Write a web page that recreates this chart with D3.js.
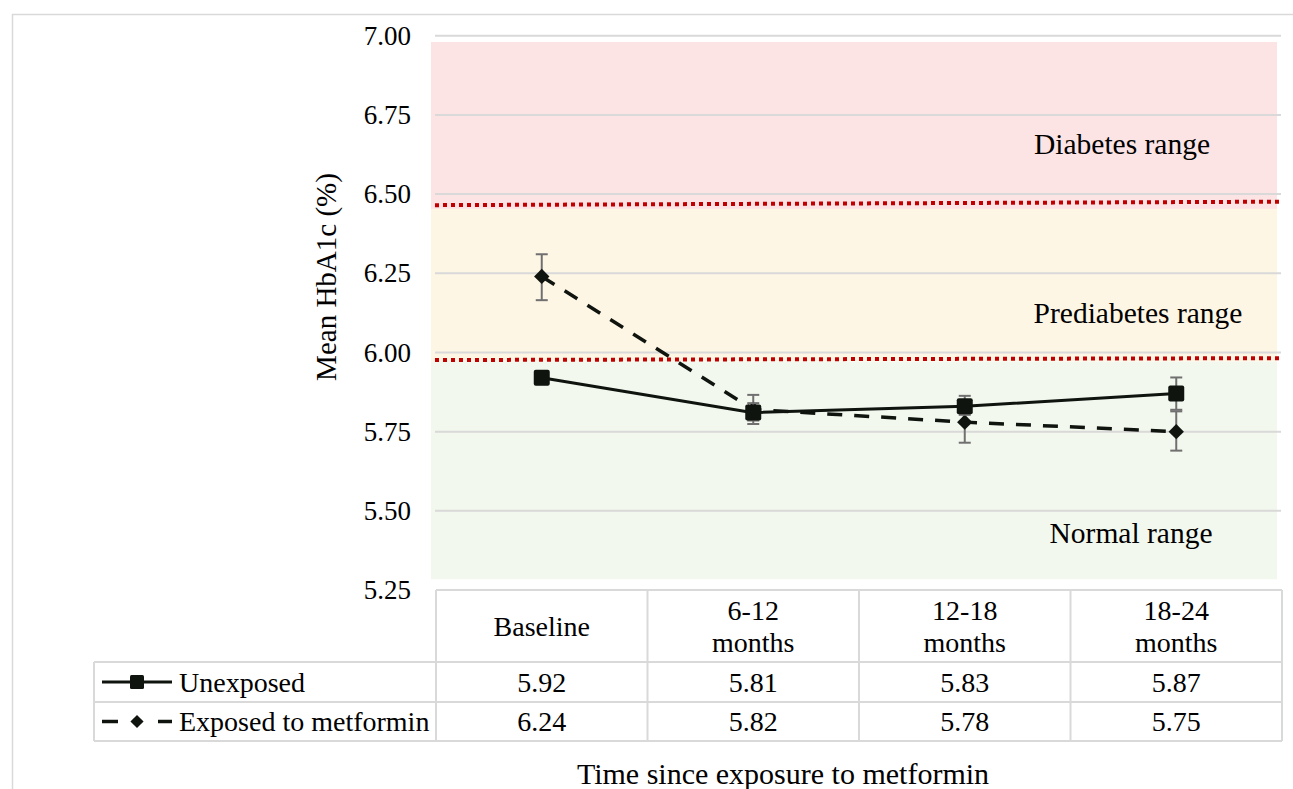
<!DOCTYPE html>
<html>
<head>
<meta charset="utf-8">
<script src="https://cdn.jsdelivr.net/npm/d3@7/dist/d3.min.js"></script>
<style>
  html, body { margin: 0; padding: 0; background: #fff; }
  svg { display: block; font-family: "Liberation Serif", "Times New Roman", serif; }
</style>
</head>
<body>
<svg id="chart" width="1293" height="789"></svg>
<script>
// Time points and their two-line header labels
const categories = ["Baseline", "6-12 months", "12-18 months", "18-24 months"];
const categoryLines = [["Baseline"], ["6-12", "months"], ["12-18", "months"], ["18-24", "months"]];

// Mean HbA1c (%) per group
const unexposed = [5.92, 5.81, 5.83, 5.87];
const exposed = [6.24, 5.82, 5.78, 5.75];

// Error bar limits
const unexposedLow = [5.90, 5.785, 5.803, 5.819];
const unexposedHigh = [5.94, 5.840, 5.863, 5.921];
const exposedLow = [6.165, 5.774, 5.715, 5.690];
const exposedHigh = [6.310, 5.866, 5.839, 5.814];

// Glycaemic ranges shaded behind the series
const rangeNames = ["Diabetes range", "Prediabetes range", "Normal range"];
const rangeTop = [6.98, 6.453, 5.971];
const rangeBottom = [6.453, 5.971, 5.284];

// Threshold lines (value at left end, value at right end)
const thresholdStart = [6.465, 5.976];
const thresholdEnd = [6.476, 5.982];

// Y axis ticks
const yTicks = [5.25, 5.50, 5.75, 6.00, 6.25, 6.50, 6.75, 7.00];

const seriesNames = ["Unexposed", "Exposed to metformin"];

// ---- layout ----
const svg = d3.select("#chart");
const TICK_FONT = 27;
const TABLE_FONT = 28;
const LABEL_FONT = 29.5;
const TITLE_FONT = 29;
const ink = "#0f140f";
const gridColor = "#d9d9d9";
const barColor = "#707070";

const plotLeft = 436, plotRight = 1282;
const x = d3.scaleBand().domain(categories).range([plotLeft, plotRight]);
const y = d3.scaleLinear().domain([5.25, 7.0]).range([590, 35.7]);
const cx = c => x(c) + x.bandwidth() / 2;

// outer frame
svg.append("rect")
  .attr("x", 12.5).attr("y", 14.5).attr("width", 1400).attr("height", 900)
  .attr("fill", "none").attr("stroke", gridColor).attr("stroke-width", 1.5);

// shaded ranges
const rangeFill = ["#fde4e4", "#fef6e5", "#f2f8ed"];
svg.append("g").selectAll("rect")
  .data(rangeNames)
  .join("rect")
  .attr("x", 431)
  .attr("width", 1277 - 431)
  .attr("y", (d, i) => y(rangeTop[i]))
  .attr("height", (d, i) => y(rangeBottom[i]) - y(rangeTop[i]))
  .attr("fill", (d, i) => rangeFill[i]);

// gridlines
svg.append("g").selectAll("line")
  .data(yTicks.slice(1))
  .join("line")
  .attr("x1", 435).attr("x2", 1281)
  .attr("y1", d => y(d)).attr("y2", d => y(d))
  .attr("stroke", gridColor).attr("stroke-width", 2);

// y axis labels
const yAxis = d3.axisLeft(y).tickValues(yTicks).tickFormat(d3.format(".2f")).tickSize(0).tickPadding(25);
const yg = svg.append("g").attr("transform", `translate(${plotLeft},0)`).call(yAxis);
yg.select(".domain").remove();
yg.selectAll("text")
  .attr("font-family", "Liberation Serif")
  .attr("font-size", TICK_FONT)
  .attr("fill", "#000");

// y axis title
svg.append("text")
  .attr("transform", "translate(336,277) rotate(-90)")
  .attr("text-anchor", "middle")
  .attr("font-size", TITLE_FONT)
  .attr("fill", "#000")
  .text("Mean HbA1c (%)");

// range labels
const rangeLabelX = [1122, 1138, 1131];
const rangeLabelV = [6.66, 6.125, 5.43];
svg.append("g").selectAll("text")
  .data(rangeNames)
  .join("text")
  .attr("x", (d, i) => rangeLabelX[i])
  .attr("y", (d, i) => y(rangeLabelV[i]))
  .attr("dy", "0.35em")
  .attr("text-anchor", "middle")
  .attr("font-size", LABEL_FONT)
  .attr("fill", "#000")
  .text(d => d);

// threshold lines
svg.append("g").selectAll("line")
  .data(thresholdStart)
  .join("line")
  .attr("x1", 435).attr("x2", 1283)
  .attr("y1", (d, i) => y(thresholdStart[i]))
  .attr("y2", (d, i) => y(thresholdEnd[i]))
  .attr("stroke", "#c00000")
  .attr("stroke-width", 4)
  .attr("stroke-dasharray", "4,4");

// series drawing
function drawErrorBars(g, low, high) {
  const eb = g.append("g").attr("stroke", barColor).attr("stroke-width", 2);
  categories.forEach((c, i) => {
    const px = cx(c);
    eb.append("line").attr("x1", px).attr("x2", px).attr("y1", y(low[i])).attr("y2", y(high[i]));
    eb.append("line").attr("x1", px - 6).attr("x2", px + 6).attr("y1", y(low[i])).attr("y2", y(low[i]));
    eb.append("line").attr("x1", px - 6).attr("x2", px + 6).attr("y1", y(high[i])).attr("y2", y(high[i]));
  });
}

const line = d3.line().x((d, i) => cx(categories[i])).y(d => y(d));

// exposed series (dashed, diamonds)
const gExp = svg.append("g");
gExp.append("path")
  .datum(exposed)
  .attr("d", line)
  .attr("fill", "none")
  .attr("stroke", ink)
  .attr("stroke-width", 3.5)
  .attr("stroke-dasharray", "15,12");
drawErrorBars(gExp, exposedLow, exposedHigh);
const diamond = d3.symbol().type(d3.symbolDiamond2).size(150);
gExp.selectAll("path.m")
  .data(exposed)
  .join("path")
  .attr("class", "m")
  .attr("transform", (d, i) => `translate(${cx(categories[i])},${y(d)})`)
  .attr("d", diamond)
  .attr("fill", ink);

// unexposed series (solid, squares)
const gUn = svg.append("g");
gUn.append("path")
  .datum(unexposed)
  .attr("d", line)
  .attr("fill", "none")
  .attr("stroke", ink)
  .attr("stroke-width", 3);
drawErrorBars(gUn, unexposedLow, unexposedHigh);
gUn.selectAll("rect.m")
  .data(unexposed)
  .join("rect")
  .attr("class", "m")
  .attr("x", (d, i) => cx(categories[i]) - 8)
  .attr("y", d => y(d) - 8)
  .attr("width", 16).attr("height", 16)
  .attr("rx", 2)
  .attr("fill", ink);

// ---- data table ----
const tHeadTop = 590, tRow1 = 662, tRow2 = 702, tBottom = 741;
const legendLeft = 94;
const tg = svg.append("g").attr("stroke", gridColor).attr("stroke-width", 2);
// horizontal rules
tg.append("line").attr("x1", plotLeft).attr("x2", plotRight).attr("y1", tHeadTop).attr("y2", tHeadTop);
[tRow1, tRow2, tBottom].forEach(v =>
  tg.append("line").attr("x1", legendLeft).attr("x2", plotRight).attr("y1", v).attr("y2", v));
// vertical rules
tg.append("line").attr("x1", legendLeft).attr("x2", legendLeft).attr("y1", tRow1).attr("y2", tBottom);
[plotLeft, ...categories.map(c => x(c) + x.bandwidth())].forEach(v =>
  tg.append("line").attr("x1", v).attr("x2", v).attr("y1", tHeadTop).attr("y2", tBottom));

// header labels
const lineH = 32;
categories.forEach((c, i) => {
  const lines = categoryLines[i];
  const mid = (tHeadTop + tRow1) / 2;
  lines.forEach((t, k) => {
    svg.append("text")
      .attr("x", cx(c))
      .attr("y", mid + (k - (lines.length - 1) / 2) * lineH)
      .attr("dy", "0.35em")
      .attr("text-anchor", "middle")
      .attr("font-size", TABLE_FONT)
      .attr("fill", "#000")
      .text(t);
  });
});

// value rows
[unexposed, exposed].forEach((vals, r) => {
  const mid = r === 0 ? (tRow1 + tRow2) / 2 : (tRow2 + tBottom) / 2;
  vals.forEach((v, i) => {
    svg.append("text")
      .attr("x", cx(categories[i]))
      .attr("y", mid)
      .attr("dy", "0.35em")
      .attr("text-anchor", "middle")
      .attr("font-size", TABLE_FONT)
      .attr("fill", "#000")
      .text(d3.format(".2f")(v));
  });
  // legend key
  const lg = svg.append("g");
  if (r === 0) {
    lg.append("line").attr("x1", 102).attr("x2", 172).attr("y1", mid).attr("y2", mid)
      .attr("stroke", ink).attr("stroke-width", 3);
    lg.append("rect").attr("x", 130).attr("y", mid - 7).attr("width", 14).attr("height", 14)
      .attr("rx", 1.5).attr("fill", ink);
  } else {
    lg.append("line").attr("x1", 102).attr("x2", 118).attr("y1", mid).attr("y2", mid)
      .attr("stroke", ink).attr("stroke-width", 3.5);
    lg.append("line").attr("x1", 158).attr("x2", 172).attr("y1", mid).attr("y2", mid)
      .attr("stroke", ink).attr("stroke-width", 3.5);
    lg.append("path").attr("transform", `translate(137,${mid})`)
      .attr("d", d3.symbol().type(d3.symbolDiamond2).size(110)).attr("fill", ink);
  }
  lg.append("text")
    .attr("x", 179).attr("y", mid).attr("dy", "0.35em")
    .attr("font-size", TABLE_FONT).attr("fill", "#000")
    .text(seriesNames[r]);
});

// x axis title
svg.append("text")
  .attr("x", 783).attr("y", 773).attr("dy", "0.35em")
  .attr("text-anchor", "middle")
  .attr("font-size", 30)
  .attr("fill", "#000")
  .text("Time since exposure to metformin");
</script>
</body>
</html>
